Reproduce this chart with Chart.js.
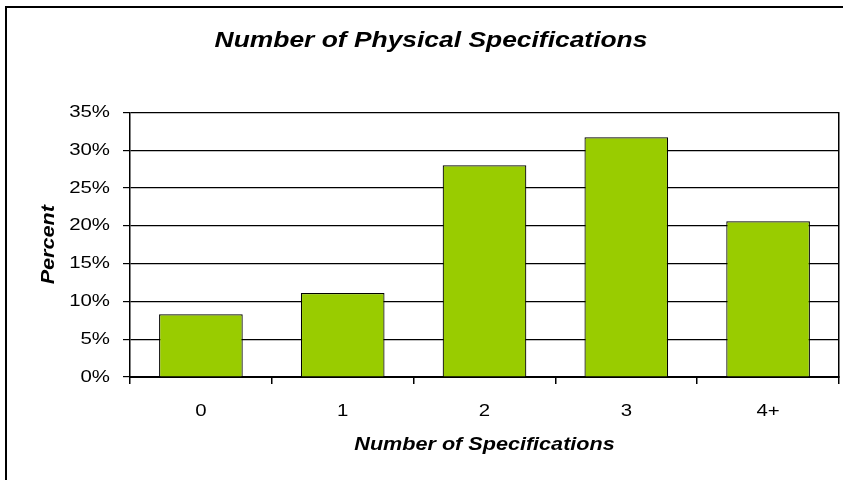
<!DOCTYPE html>
<html>
<head>
<meta charset="utf-8">
<script src="https://cdn.jsdelivr.net/npm/chart.js@4"></script>
<style>
  html, body { margin: 0; padding: 0; background: #fff; overflow: hidden; }
  #frame {
    position: absolute; left: 5px; top: 6px;
    width: 848px; height: 490px;
    border: 2px solid #000;
  }
  #wrap { position: absolute; left: 0; top: 0; width: 848px; height: 480px; }
</style>
</head>
<body>
<div id="frame"><div id="wrap"><canvas id="specChart"></canvas></div></div>
<script>
// Chart data
const categories = ['0', '1', '2', '3', '4+'];
const percentValues = [8.3, 11.1, 28.0, 31.7, 20.6];
const yTicks = [0, 5, 10, 15, 20, 25, 30, 35];

const FONT = "'Liberation Sans', Arial, sans-serif";
const TEXT_STRETCH = 1.2; // the original's lettering is a bit wider than Arial

// Widen every label a little (keeps its anchor point)
const wideText = {
    id: 'wideText',
    beforeDraw(chart) {
        const ctx = chart.ctx;
        if (ctx._wide) return;
        const fill = ctx.fillText;
        ctx.fillText = function (text, x, y, maxWidth) {
            this.save();
            this.translate(x, y);
            this.scale(TEXT_STRETCH, 1);
            if (maxWidth === undefined) fill.call(this, text, 0, 0);
            else fill.call(this, text, 0, 0, maxWidth / TEXT_STRETCH);
            this.restore();
        };
        ctx._wide = true;
    }
};

new Chart(document.getElementById('specChart'), {
    type: 'bar',
    data: {
        labels: categories,
        datasets: [{
            label: 'Percent',
            data: percentValues,
            backgroundColor: '#99CC00',
            borderColor: '#000',
            borderWidth: 1.2,
            barPercentage: 0.59,
            categoryPercentage: 1
        }]
    },
    options: {
        responsive: true,
        maintainAspectRatio: false,
        animation: false,
        layout: { padding: 0 },
        plugins: {
            legend: { display: false },
            tooltip: { enabled: false },
            title: {
                display: true,
                text: 'Number of Physical Specifications',
                color: '#000',
                font: { family: FONT, size: 22, weight: 'bold', style: 'italic', lineHeight: 1.2 },
                padding: { top: 20, bottom: 58 }
            }
        },
        scales: {
            x: {
                grid: { drawOnChartArea: false, drawTicks: true, tickLength: 7, tickColor: '#000', lineWidth: 1.5 },
                border: { display: true, color: '#000', width: 2 },
                ticks: { color: '#000', padding: 17, font: { family: FONT, size: 17 } },
                title: {
                    display: true,
                    text: 'Number of Specifications',
                    color: '#000',
                    font: { family: FONT, size: 18, weight: 'bold', style: 'italic', lineHeight: 1.2 },
                    padding: { top: 0, bottom: 32 }
                },
                afterFit(scale) { scale.height = 111; }
            },
            y: {
                min: yTicks[0],
                max: yTicks[yTicks.length - 1],
                afterBuildTicks(scale) { scale.ticks = yTicks.map(v => ({ value: v })); },
                grid: { color: '#000', lineWidth: 1.2, tickLength: 7, tickColor: '#000' },
                border: { display: true, color: '#000', width: 1.5 },
                ticks: {
                    color: '#000',
                    padding: 13,
                    font: { family: FONT, size: 17 },
                    callback: v => v + '%'
                },
                title: {
                    display: true,
                    text: 'Percent',
                    color: '#000',
                    font: { family: FONT, size: 18, weight: 'bold', style: 'italic', lineHeight: 1.2 },
                    padding: { top: 31, bottom: 0 }
                },
                afterFit(scale) { scale.width = 123; }
            },
            // empty right axis: only its line closes the plot box
            yRight: {
                position: 'right',
                min: yTicks[0],
                max: yTicks[yTicks.length - 1],
                grid: { drawOnChartArea: false, drawTicks: false },
                border: { display: true, color: '#000', width: 1.5 },
                ticks: { display: false },
                afterFit(scale) { scale.width = 16; }
            }
        }
    },
    plugins: [wideText]
});
</script>
</body>
</html>
